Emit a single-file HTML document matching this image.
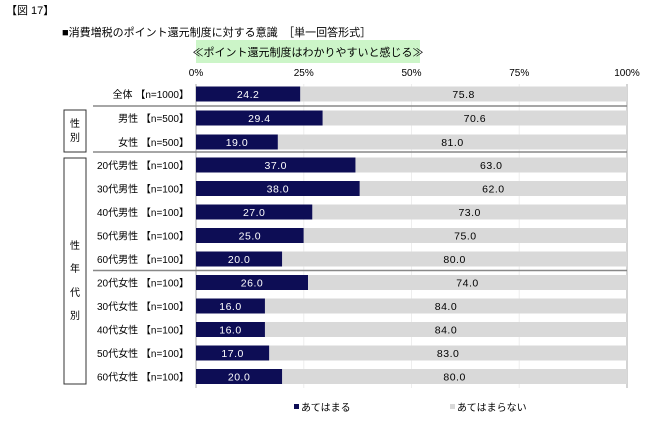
<!DOCTYPE html>
<html><head><meta charset="utf-8"><style>
body{margin:0;background:#fff;font-family:"Liberation Sans","Noto Sans CJK JP",sans-serif;}
svg text{font-family:"Liberation Sans","Noto Sans CJK JP",sans-serif;}
</style></head><body>
<svg width="650" height="422" xmlns="http://www.w3.org/2000/svg">
<text x="6" y="14" font-size="11" fill="#000">【図 17】</text>
<text x="62" y="36" font-size="11" fill="#000">■消費増税のポイント還元制度に対する意識　［単一回答形式］</text>
<rect x="196" y="40" width="224" height="23" fill="#ccf5c8"/>
<text x="308" y="56" font-size="11" text-anchor="middle" fill="#000">≪ポイント還元制度はわかりやすいと感じる≫</text>
<g id="ticks"></g>
<g id="grid"></g>
<g id="bars"></g>
<rect x="64" y="110" width="22" height="42" fill="none" stroke="#333"/>
<text x="75" y="127" font-size="10" text-anchor="middle">性</text>
<text x="75" y="141" font-size="10" text-anchor="middle">別</text>
<rect x="64" y="158" width="22" height="226" fill="none" stroke="#333"/>
<text x="75" y="249" font-size="10" text-anchor="middle">性</text>
<text x="75" y="272" font-size="10" text-anchor="middle">年</text>
<text x="75" y="296" font-size="10" text-anchor="middle">代</text>
<text x="75" y="319" font-size="10" text-anchor="middle">別</text>
<rect x="294" y="404" width="5" height="5" fill="#0d0d55"/>
<text x="301" y="411" font-size="10">あてはまる</text>
<rect x="450" y="404" width="5" height="5" fill="#d9d9d9"/>
<text x="457" y="411" font-size="10">あてはまらない</text>
</svg>
<script>
const categories=["全体 【n=1000】","男性 【n=500】","女性 【n=500】","20代男性 【n=100】","30代男性 【n=100】","40代男性 【n=100】","50代男性 【n=100】","60代男性 【n=100】","20代女性 【n=100】","30代女性 【n=100】","40代女性 【n=100】","50代女性 【n=100】","60代女性 【n=100】"];
const yesValues=[24.2,29.4,19.0,37.0,38.0,27.0,25.0,20.0,26.0,16.0,16.0,17.0,20.0];
const noValues=[75.8,70.6,81.0,63.0,62.0,73.0,75.0,80.0,74.0,84.0,84.0,83.0,80.0];
const tickValues=[0,25,50,75,100];
const tickLabels=["0%","25%","50%","75%","100%"];
const NS="http://www.w3.org/2000/svg";
const X0=196,X1=627;
function xs(v){return X0+(X1-X0)*v/100;}
const rowYs=[94,118,142,165,188.5,212,235.5,259,282.5,306,329.5,353,376.5];
function ys(i){return rowYs[i];}
function mk(t,a,parent){const e=document.createElementNS(NS,t);for(const k in a)e.setAttribute(k,a[k]);parent.appendChild(e);return e;}
const tk=document.getElementById('ticks'),gr=document.getElementById('grid'),bg=document.getElementById('bars');
tickValues.forEach((v,i)=>{
 const t=mk('text',{x:xs(v),y:76,'font-size':10,'text-anchor':'middle',fill:'#000'},tk);
 t.textContent=tickLabels[i];
 
 
 if(v>0){const l=mk('line',{x1:xs(v),x2:xs(v),y1:84,y2:388,stroke:v==100?'#aaa':'#eee','stroke-width':1},gr);
 
 }
});
const ax=mk('line',{x1:X0,x2:X0,y1:84,y2:388,stroke:'#aaa'},gr);


[[106,93],[152,93],[270.5,93]].forEach(s=>{
 const l=mk('line',{x1:s[1],x2:X1,y1:s[0],y2:s[0],stroke:'#888','stroke-width':1.5},gr);
 
 
});
categories.forEach((c,i)=>{
 const y=ys(i),h=15;
 const lb=mk('text',{x:189,y:y+4,'font-size':10,'text-anchor':'end',fill:'#000'},bg);
 lb.textContent=c;
 
 
 const r1=mk('rect',{x:xs(0),y:y-h/2,width:xs(yesValues[i])-xs(0),height:h,fill:'#0d0d55'},bg);
 
 
 const r2=mk('rect',{x:xs(yesValues[i]),y:y-h/2,width:xs(yesValues[i]+noValues[i])-xs(yesValues[i]),height:h,fill:'#d9d9d9'},bg);
 
 
 const t1=mk('text',{x:(xs(0)+xs(yesValues[i]))/2,y:y+4,'font-size':10.5,'text-anchor':'middle',fill:'#fff','letter-spacing':'0.5'},bg);
 t1.textContent=yesValues[i].toFixed(1);
 
 
 const t2=mk('text',{x:(xs(yesValues[i])+xs(yesValues[i]+noValues[i]))/2,y:y+4,'font-size':10.5,'text-anchor':'middle',fill:'#000','letter-spacing':'0.5'},bg);
 t2.textContent=noValues[i].toFixed(1);
 
 
});
</script>
</body></html>
